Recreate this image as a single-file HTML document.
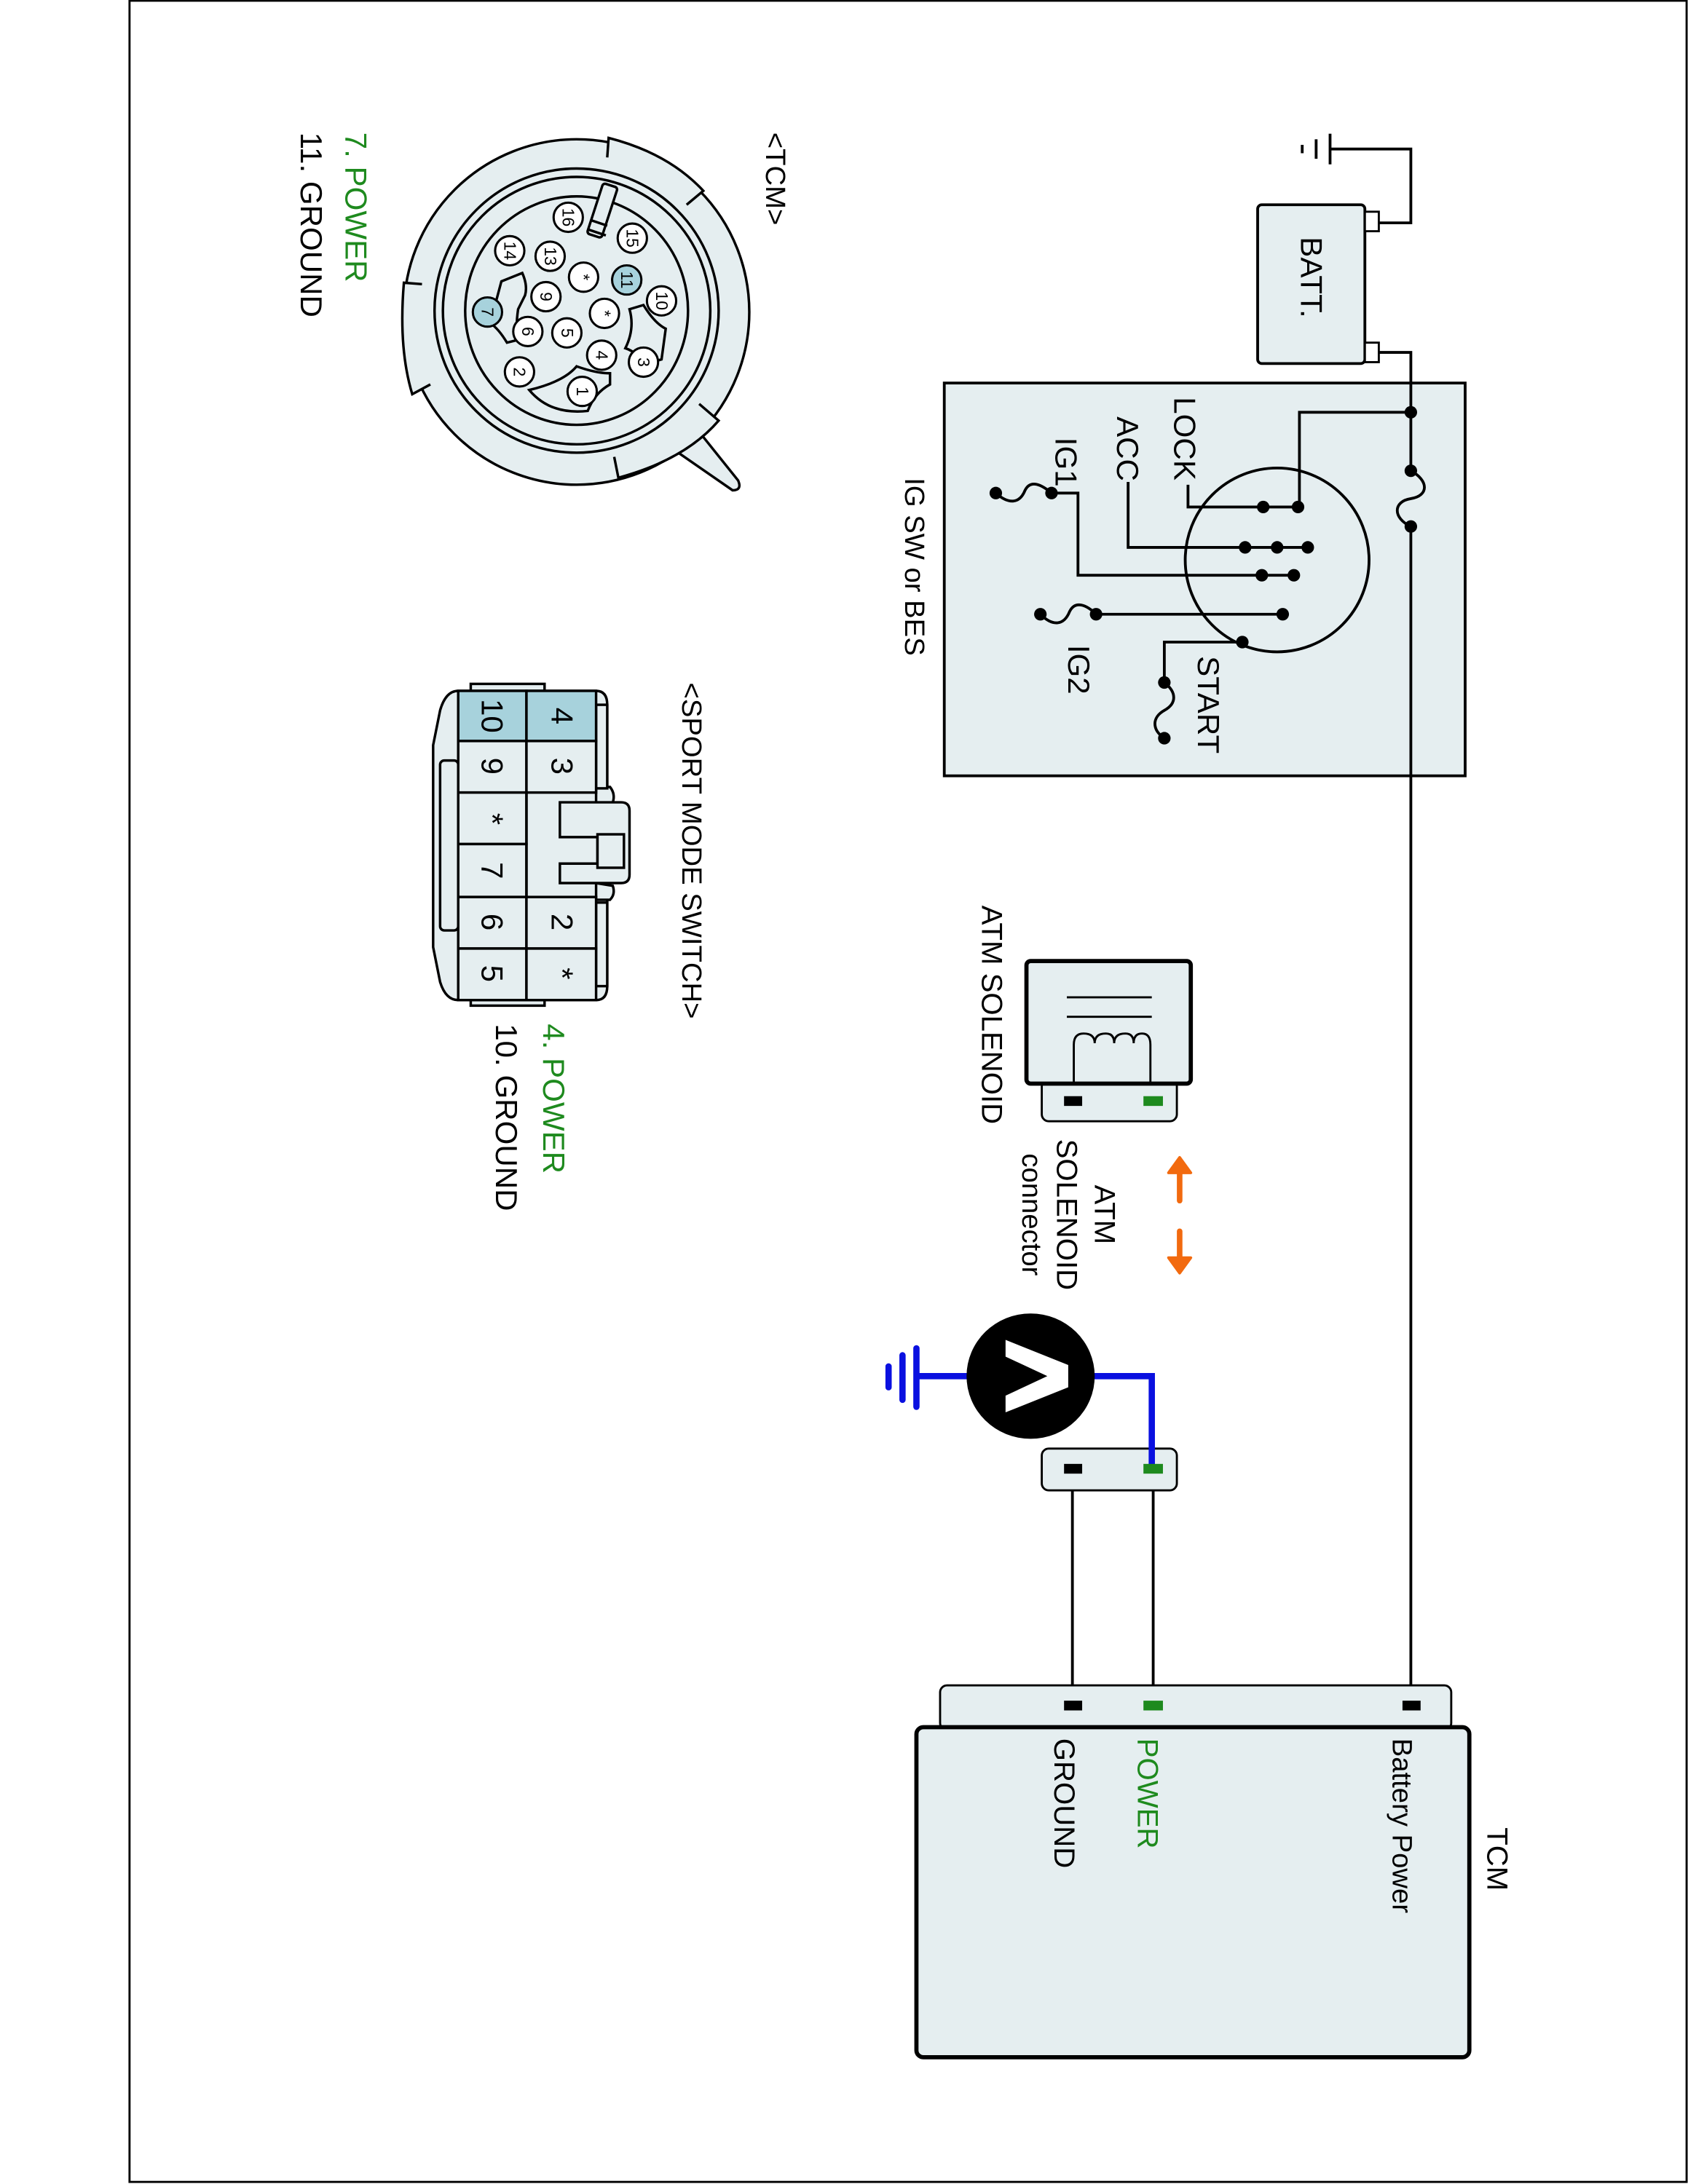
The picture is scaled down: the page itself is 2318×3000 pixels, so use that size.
<!DOCTYPE html>
<html><head><meta charset="utf-8"><style>
html,body{margin:0;padding:0;background:#fff}
svg{display:block}
text{font-family:"Liberation Sans",sans-serif;}
</style></head><body>
<svg width="2318" height="3000" viewBox="0 0 1212 1568" preserveAspectRatio="none" xmlns="http://www.w3.org/2000/svg">
<rect x="0" y="0" width="1212" height="1568" fill="#fff"/>
<rect x="93" y="0.5" width="1118" height="1566" fill="none" stroke="#000" stroke-width="1.5"/>

<g stroke="#000" stroke-width="2" fill="none">
<!-- IG switch box -->
<rect x="678" y="275" width="374" height="282" fill="#e5eef0"/>
<!-- battery -->
<rect x="903" y="147" width="77" height="114" rx="3" fill="#e5eef0"/>
<rect x="980" y="152" width="10" height="14" fill="#fff" stroke-width="1.5"/>
<rect x="980" y="246" width="10" height="14" fill="#fff" stroke-width="1.5"/>
<polyline points="990,160 1013,160 1013,107 955,107"/>
<line x1="955" y1="96" x2="955" y2="118"/>
<line x1="945" y1="100" x2="945" y2="114"/>
<line x1="935" y1="104" x2="935" y2="110"/>
<polyline points="990,253 1013,253 1013,338"/>
<path d="M1013,338 C1026,345 1026,356 1013,358 C1000,360 1000,372 1013,378"/>
<line x1="1013" y1="378" x2="1013" y2="1224"/>
<circle cx="917" cy="402" r="66"/>
<polyline points="1013,296 933,296 933,364"/>
<polyline points="932,364 853,364 853,348"/>
<polyline points="939,393 810,393 810,346"/>
<polyline points="929,413 774,413 774,354 755,354"/>
<path d="M755,354 C748,348 740,344 736,352 C732,362 724,362 715,354"/>
<line x1="921" y1="441" x2="787" y2="441"/>
<path d="M787,441 C780,434 772,431 768,439 C764,449 756,450 747,441"/>
<polyline points="892,461 836,461 836,490"/>
<path d="M836,490 C845,497 845,505 836,510 C827,515 827,524 836,530"/>
<!-- wires to TCM -->
<line x1="770" y1="1054" x2="770" y2="1224"/>
<line x1="828" y1="1054" x2="828" y2="1224"/>
<!-- TCM box -->
<rect x="675" y="1210" width="367" height="32" rx="5" fill="#e5eef0" stroke-width="1.5"/>
<rect x="658" y="1240" width="397" height="237" rx="5" fill="#e5eef0" stroke-width="3"/>
<!-- solenoid -->
<rect x="748" y="775" width="97" height="30" rx="5" fill="#e5eef0" stroke-width="1.5"/>
<rect x="737" y="690" width="118" height="88" rx="3" fill="#e5eef0" stroke-width="3"/>
<line x1="766" y1="716" x2="827" y2="716" stroke-width="1.5"/>
<line x1="766" y1="730" x2="827" y2="730" stroke-width="1.5"/>
<path d="M771,777 L771,750 Q771,742 778,742 Q786,742 786,749 Q786,742 794,742 Q800,742 800,749 Q800,742 808,742 Q814,742 814,749 Q814,742 820,742 Q826,742 826,750 L826,777" stroke-width="1.5"/>
<!-- meter connector -->
<rect x="748" y="1040" width="97" height="30" rx="5" fill="#e5eef0" stroke-width="1.5"/>
</g>
<!-- dots -->
<g fill="#000">
<circle cx="1013" cy="296" r="4.5"/><circle cx="1013" cy="338" r="4.5"/><circle cx="1013" cy="378" r="4.5"/>
<circle cx="932" cy="364" r="4.5"/><circle cx="907" cy="364" r="4.5"/>
<circle cx="894" cy="393" r="4.5"/><circle cx="917" cy="393" r="4.5"/><circle cx="939" cy="393" r="4.5"/>
<circle cx="906" cy="413" r="4.5"/><circle cx="929" cy="413" r="4.5"/>
<circle cx="921" cy="441" r="4.5"/><circle cx="787" cy="441" r="4.5"/><circle cx="747" cy="441" r="4.5"/>
<circle cx="755" cy="354" r="4.5"/><circle cx="715" cy="354" r="4.5"/>
<circle cx="892" cy="461" r="4.5"/><circle cx="836" cy="490" r="4.5"/><circle cx="836" cy="530" r="4.5"/>
<rect x="764" y="787" width="13" height="7"/>
<rect x="764" y="1051" width="13" height="7"/>
<rect x="764" y="1221" width="13" height="7"/>
<rect x="1007" y="1221" width="13" height="7"/>
</g>
<g fill="#1e8a1e">
<rect x="821" y="787" width="14" height="7"/>
<rect x="821" y="1221" width="14" height="7"/>
</g>
<!-- voltmeter -->
<g stroke="#0a10e0" stroke-width="4.5" fill="none" stroke-linecap="round">
<polyline points="785,988 827,988 827,1052"/>
<line x1="695" y1="988" x2="660" y2="988"/>
<line x1="658" y1="968" x2="658" y2="1010"/>
<line x1="648" y1="973" x2="648" y2="1005"/>
<line x1="638" y1="981" x2="638" y2="996"/>
</g>
<rect x="821" y="1051" width="14" height="7" fill="#1e8a1e"/>
<ellipse cx="740" cy="988" rx="46" ry="45" fill="#000"/>
<polygon points="722,962 767,980 767,996 722,1014 722,1002 752,988 722,974" fill="#fff"/>
<!-- orange arrows -->
<g fill="#f26a0f" stroke="#f26a0f" stroke-width="4" stroke-linecap="round">
<line x1="847" y1="840" x2="847" y2="862"/>
<polygon points="839,842 847,831 855,842" stroke-width="2" stroke-linejoin="round"/>
<line x1="847" y1="884" x2="847" y2="905"/>
<polygon points="839,903 847,914 855,903" stroke-width="2" stroke-linejoin="round"/>
</g>

<!-- TCM round connector -->
<g stroke="#000" stroke-width="1.8" fill="#e5eef0">
<path d="M498,305 L530,345 Q533,352 526,352 L487,325 Z"/>
<circle cx="414" cy="224" r="124"/>
<path d="M436,113 L437,99 Q480,110 505,137 L493,147" fill="#e5eef0"/>
<path d="M309,276 L296,283 Q286,250 290,203 L303,204"/>
<path d="M441,328 L444,343 Q492,330 516,302 L502,290"/>
<circle cx="414" cy="223" r="102"/>
<circle cx="414" cy="223" r="96"/>
<ellipse cx="414" cy="223" rx="80" ry="82"/>
<rect x="427" y="132" width="11" height="38" rx="2" transform="rotate(18 432 151)"/>
<line x1="424" y1="158" x2="436" y2="162"/>
<line x1="423" y1="165" x2="435" y2="169"/>
<path d="M360,202 L375,196 Q379,205 377,212 L372,222 Q370,236 372,244 L364,246 Q358,236 352,232 Z"/>
<path d="M452,222 L462,219 Q470,232 478,236 L475,258 L462,262 Q458,253 449,250 Q456,236 452,222 Z"/>
<path d="M380,280 Q405,274 414,263 Q428,268 438,268 L438,276 Q427,282 422,295 Q395,298 380,280 Z"/>
</g>
<g stroke="#000" stroke-width="1.6">
<g fill="#fff">
<circle cx="408" cy="156" r="10.5"/><circle cx="454" cy="171" r="10.5"/>
<circle cx="366" cy="180" r="10.5"/><circle cx="395" cy="184" r="10.5"/>
<circle cx="419" cy="199" r="10.5"/><circle cx="475" cy="216" r="10.5"/>
<circle cx="392" cy="213" r="10.5"/><circle cx="434" cy="225" r="10.5"/>
<circle cx="379" cy="238" r="10.5"/><circle cx="407" cy="239" r="10.5"/>
<circle cx="432" cy="255" r="10.5"/><circle cx="462" cy="260" r="10.5"/>
<circle cx="373" cy="267" r="10.5"/><circle cx="418" cy="281" r="10.5"/>
</g>
<circle cx="450" cy="201" r="10.5" fill="#a7d2dc"/>
<circle cx="350" cy="224" r="10.5" fill="#a7d2dc"/>
</g>
<g font-size="12" text-anchor="middle">
<text transform="translate(404,156) rotate(90)">16</text>
<text transform="translate(450,171) rotate(90)">15</text>
<text transform="translate(362,180) rotate(90)">14</text>
<text transform="translate(391,184) rotate(90)">13</text>
<text transform="translate(415,199) rotate(90)">*</text>
<text transform="translate(446,201) rotate(90)">11</text>
<text transform="translate(471,216) rotate(90)">10</text>
<text transform="translate(388,213) rotate(90)">9</text>
<text transform="translate(430,225) rotate(90)">*</text>
<text transform="translate(346,224) rotate(90)">7</text>
<text transform="translate(375,238) rotate(90)">6</text>
<text transform="translate(403,239) rotate(90)">5</text>
<text transform="translate(428,255) rotate(90)">4</text>
<text transform="translate(458,260) rotate(90)">3</text>
<text transform="translate(369,267) rotate(90)">2</text>
<text transform="translate(414,281) rotate(90)">1</text>
</g>

<!-- sport mode switch connector -->
<g stroke="#000" stroke-width="1.8" fill="#e5eef0">
<rect x="338" y="491" width="53" height="6"/>
<rect x="338" y="716" width="53" height="6"/>
<path d="M329,496 L428,496 Q436,496 436,506 L436,708 Q436,718 428,718 L329,718 Q320,718 316,705 L311,680 L311,535 L316,510 Q320,496 329,496 Z"/>
<rect x="316" y="546" width="13" height="122" rx="3"/>
<path d="M428,565 L438,565 Q442,570 440,576 L428,578 Z"/>
<path d="M428,646 L438,646 Q442,642 440,636 L428,634 Z"/>
<rect x="428" y="506" width="8" height="60"/>
<rect x="428" y="648" width="8" height="60"/>
<path d="M402,601 L402,576 L446,576 Q452,576 452,582 L452,628 Q452,634 446,634 L402,634 L402,620 L429,620 L429,601 Z"/>
<rect x="429" y="599" width="19" height="24"/>
<rect x="329" y="496" width="49" height="36" fill="#a7d2dc"/>
<rect x="378" y="496" width="50" height="36" fill="#a7d2dc"/>
<rect x="329" y="532" width="49" height="37"/>
<rect x="378" y="532" width="50" height="37"/>
<rect x="329" y="569" width="49" height="37"/>
<rect x="329" y="606" width="49" height="38"/>
<rect x="329" y="644" width="49" height="37"/>
<rect x="378" y="644" width="50" height="37"/>
<rect x="329" y="681" width="49" height="37"/>
<rect x="378" y="681" width="50" height="37"/>
<line x1="378" y1="569" x2="378" y2="644"/>
</g>
<g font-size="22" text-anchor="middle">
<text transform="translate(396,514) rotate(90)">4</text>
<text transform="translate(396,550) rotate(90)">3</text>
<text transform="translate(396,662) rotate(90)">2</text>
<text transform="translate(396,699) rotate(90)">*</text>
<text transform="translate(346,514) rotate(90)">10</text>
<text transform="translate(346,550) rotate(90)">9</text>
<text transform="translate(346,588) rotate(90)">*</text>
<text transform="translate(346,625) rotate(90)">7</text>
<text transform="translate(346,662) rotate(90)">6</text>
<text transform="translate(346,699) rotate(90)">5</text>
</g>

<!-- labels -->
<g font-size="22">
<text transform="translate(934,170) rotate(90)">BATT.</text>
<text transform="translate(843,285) rotate(90)">LOCK</text>
<text transform="translate(802,299) rotate(90)">ACC</text>
<text transform="translate(758,314) rotate(90)">IG1</text>
<text transform="translate(767,463) rotate(90)">IG2</text>
<text transform="translate(860,471) rotate(90)">START</text>
<text transform="translate(650,343) rotate(90)" font-size="20">IG SW or BES</text>
<text transform="translate(550,95) rotate(90)" font-size="20">&lt;TCM&gt;</text>
<text transform="translate(248,95) rotate(90)" fill="#1e8a1e">7. POWER</text>
<text transform="translate(216,95) rotate(90)">11. GROUND</text>
<text transform="translate(490,490) rotate(90)" font-size="20">&lt;SPORT MODE SWITCH&gt;</text>
<text transform="translate(390,735) rotate(90)" fill="#1e8a1e">4. POWER</text>
<text transform="translate(356,735) rotate(90)">10. GROUND</text>
<text transform="translate(705,650) rotate(90)" font-size="21">ATM SOLENOID</text>
<text transform="translate(786,872) rotate(90)" text-anchor="middle" font-size="21">ATM</text>
<text transform="translate(759,872) rotate(90)" text-anchor="middle" font-size="21">SOLENOID</text>
<text transform="translate(734,872) rotate(90)" text-anchor="middle" font-size="20">connector</text>
<text transform="translate(1068,1312) rotate(90)" font-size="21">TCM</text>
<text transform="translate(1000,1248) rotate(90)" font-size="20">Battery Power</text>
<text transform="translate(817,1248) rotate(90)" font-size="21" fill="#1e8a1e">POWER</text>
<text transform="translate(757,1248) rotate(90)" font-size="21">GROUND</text>
</g>
</svg>
</body></html>
